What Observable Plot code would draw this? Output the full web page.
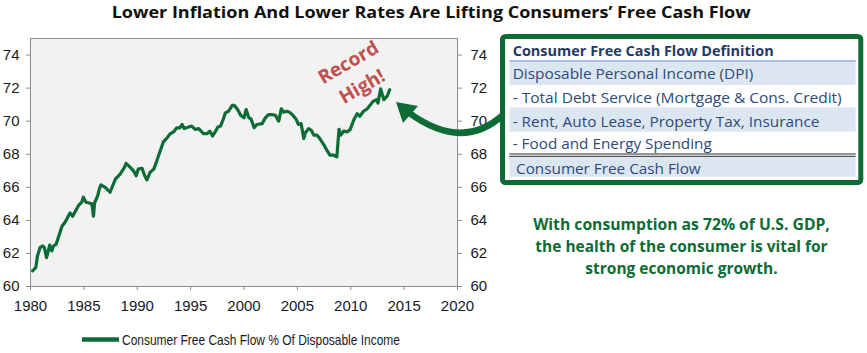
<!DOCTYPE html>
<html>
<head>
<meta charset="utf-8">
<script src="https://cdn.jsdelivr.net/npm/d3@7"></script>
<script src="https://cdn.jsdelivr.net/npm/@observablehq/plot@0.6"></script>
<style>
  html, body { margin: 0; padding: 0; background: #fff; }
  #wrap { position: relative; width: 867px; height: 353px; overflow: hidden; background: #fff; }
  #chart { position: absolute; left: 0; top: 30px; }
  #ov { position: absolute; left: 0; top: 0; pointer-events: none; }
</style>
</head>
<body>
<div id="wrap">
  <div id="chart"></div>
  <svg id="ov" width="867" height="353"></svg>
</div>
<script>
// ---- data ----
const years = [
  1980.2, 1980.5, 1980.65, 1980.9, 1981.15, 1981.3, 1981.5, 1981.8, 1982.0, 1982.15,
  1982.4, 1982.7, 1982.95, 1983.25, 1983.7, 1983.95, 1984.2, 1984.5, 1984.8, 1984.95,
  1985.2, 1985.5, 1985.75, 1985.9, 1986.0, 1986.3, 1986.45, 1986.6, 1987.0, 1987.45,
  1987.95, 1988.4, 1988.8, 1988.95, 1989.35, 1989.65, 1989.9, 1990.1, 1990.45, 1990.7,
  1990.9, 1991.2, 1991.55, 1991.8, 1992.1, 1992.45, 1992.8, 1993.1, 1993.4, 1993.7,
  1994.0, 1994.2, 1994.4, 1994.8, 1995.1, 1995.45, 1995.75, 1996.2, 1996.55, 1996.8,
  1997.05, 1997.3, 1997.55, 1997.8, 1998.05, 1998.25, 1998.55, 1998.9, 1999.1, 1999.4,
  1999.7, 2000.0, 2000.2, 2000.45, 2000.65, 2000.95, 2001.2, 2001.7, 2002.0, 2002.3,
  2002.6, 2002.95, 2003.25, 2003.5, 2003.7, 2004.05, 2004.35, 2004.65, 2004.9, 2005.1,
  2005.35, 2005.6, 2005.75, 2006.05, 2006.3, 2006.55, 2006.85, 2007.15, 2007.45, 2007.8,
  2008.05, 2008.4, 2008.7, 2008.9, 2009.05, 2009.35, 2009.65, 2009.95, 2010.3, 2010.6,
  2010.85, 2011.2, 2011.55, 2011.85, 2012.1, 2012.4, 2012.55, 2012.8, 2013.1, 2013.4,
  2013.65
];
const fcfPct = [
  60.95, 61.15, 61.85, 62.36, 62.45, 62.35, 61.75, 62.5, 62.15, 62.45,
  62.55, 63.15, 63.65, 63.9, 64.45, 64.25, 64.55, 64.9, 65.1, 65.4,
  65.1, 65.05, 65.0, 64.25, 65.05, 65.5, 65.9, 66.15, 66.0, 65.7,
  66.5, 66.8, 67.2, 67.45, 67.2, 67.0, 66.7, 67.1, 67.15, 66.7,
  66.45, 66.9, 67.1, 67.55, 68.1, 68.75, 69.0, 69.25, 69.35, 69.6,
  69.6, 69.8, 69.55, 69.65, 69.7, 69.5, 69.55, 69.25, 69.25, 69.4,
  69.1, 69.35, 69.65, 69.7, 70.1, 70.5, 70.6, 70.95, 70.95, 70.7,
  70.35, 70.2, 70.7, 70.2, 70.15, 69.6, 69.8, 69.85, 70.2, 70.4,
  70.4, 70.35, 70.0, 70.75, 70.55, 70.6, 70.5, 70.3, 70.1, 69.8,
  69.85, 68.95, 69.3, 69.55, 69.45, 69.15, 69.15, 68.9, 68.6, 68.2,
  67.95, 67.95, 67.85, 69.5, 69.15, 69.4, 69.35, 69.5, 70.1, 70.45,
  70.3, 70.6, 70.75, 71.0, 71.2, 71.3, 71.1, 71.95, 71.3, 71.5,
  71.9
];
const xTicks = [1980, 1985, 1990, 1995, 2000, 2005, 2010, 2015, 2020];
const yTicks = [60, 62, 64, 66, 68, 70, 72, 74];
const seriesName = "Consumer Free Cash Flow % Of Disposable Income";
const titleText = "Lower Inflation And Lower Rates Are Lifting Consumers\u2019 Free Cash Flow";
const noteText = "Record\nHigh!";
const boxTitle = "Consumer Free Cash Flow Definition";
const boxRows = [
  "Disposable Personal Income (DPI)",
  "- Total Debt Service (Mortgage & Cons. Credit)",
  "- Rent, Auto Lease, Property Tax, Insurance",
  "- Food and Energy Spending",
  "Consumer Free Cash Flow"
];
const commentLines = [
  "With consumption as 72% of U.S. GDP,",
  "the health of the consumer is vital for",
  "strong economic growth."
];

const data = years.map((y, i) => ({year: y, value: fcfPct[i]}));
const GREEN = "#0d6b36";
const AXISFONT = "'Liberation Sans Narrow','Arial Narrow','Liberation Sans',Arial,sans-serif";

const chart = Plot.plot({
  width: 490,
  height: 290,
  marginLeft: 30,
  marginRight: 33,
  marginTop: 8,
  marginBottom: 34,
  style: {fontFamily: AXISFONT, fontSize: "15px", background: "transparent", color: "#1a1a1a"},
  x: {domain: [1980, 2020], label: null},
  y: {domain: [60, 75], label: null},
  marks: [
    Plot.frame({fill: "#f2f2f2", stroke: null}),
    Plot.axisY({anchor: "left", ticks: yTicks, tickSize: 4, tickPadding: 7, stroke: "#8c8c8c", fill: "#1a1a1a", label: null}),
    Plot.axisY({anchor: "right", ticks: yTicks, tickSize: 4, tickPadding: 9, stroke: "#8c8c8c", fill: "#1a1a1a", label: null}),
    Plot.axisX({anchor: "bottom", ticks: xTicks, tickFormat: d => String(d), tickSize: 4, tickPadding: 10, stroke: "#8c8c8c", fill: "#1a1a1a", label: null}),
    Plot.frame({stroke: "#8c8c8c", strokeWidth: 1}),
    Plot.line(data, {x: "year", y: "value", stroke: GREEN, strokeWidth: 3.2, strokeLinejoin: "round"}),
    Plot.text([{x: 2010.3, y: 72.95}], {
      x: "x", y: "y", text: () => noteText, rotate: -30,
      fill: "#c0504d", fontSize: 19, fontWeight: "bold",
      fontFamily: "'Open Sans','Noto Sans',sans-serif",
      lineHeight: 1.45, textAnchor: "middle", lineAnchor: "middle"
    })
  ]
});
document.getElementById("chart").appendChild(chart);

// ---- overlay: title, definition box, arrow, comment, legend ----
const ov = d3.select("#ov");
const SANS = "'Open Sans','Noto Sans',sans-serif";

ov.append("text")
  .attr("x", 431.2).attr("y", 17.6)
  .attr("text-anchor", "middle")
  .attr("font-family", SANS).attr("font-weight", "bold").attr("font-size", 16.5)
  .attr("fill", "#111")
  .attr("textLength", 639).attr("lengthAdjust", "spacingAndGlyphs")
  .text(titleText);

// definition box
const box = ov.append("g");
box.append("rect").attr("x", 509.3).attr("y", 40).attr("width", 346.4).attr("height", 136.7).attr("fill", "#fff");
const bands = [[61.7, 85], [107.3, 131.7], [156.7, 176.7]];
bands.forEach(([a, b]) => box.append("rect").attr("x", 509.3).attr("y", a).attr("width", 346.4).attr("height", b - a).attr("fill", "#dce6f1"));
box.append("line").attr("x1", 509.3).attr("x2", 855.7).attr("y1", 61).attr("y2", 61).attr("stroke", "#8eaadb").attr("stroke-width", 1.5);
box.append("line").attr("x1", 509.3).attr("x2", 855.7).attr("y1", 154).attr("y2", 154).attr("stroke", "#111").attr("stroke-width", 0.9);
box.append("line").attr("x1", 509.3).attr("x2", 855.7).attr("y1", 156.3).attr("y2", 156.3).attr("stroke", "#111").attr("stroke-width", 0.9);

box.append("text").attr("x", 512.7).attr("y", 56)
  .attr("font-family", SANS).attr("font-weight", "bold").attr("font-size", 15)
  .attr("fill", "#1f3a64").attr("textLength", 261).attr("lengthAdjust", "spacingAndGlyphs")
  .text(boxTitle);
const rowGeo = [
  {x: 512.7, y: 79.3, w: 240.7},
  {x: 512.7, y: 102.8, w: 329},
  {x: 512.7, y: 126.5, w: 306.7},
  {x: 512.7, y: 149.2, w: 199},
  {x: 516, y: 173.8, w: 184.7}
];
boxRows.forEach((t, i) => {
  const g = rowGeo[i];
  box.append("text").attr("x", g.x).attr("y", g.y)
    .attr("font-family", SANS).attr("font-size", 15)
    .attr("fill", "#2c4a7c").attr("textLength", g.w).attr("lengthAdjust", "spacingAndGlyphs")
    .text(t);
});
box.append("rect").attr("x", 502.5).attr("y", 36.5).attr("width", 358.3).attr("height", 146)
  .attr("rx", 3).attr("fill", "none").attr("stroke", GREEN).attr("stroke-width", 5);

// curved arrow
ov.append("path").attr("d", "M503,115 Q462,152 408,112")
  .attr("fill", "none").attr("stroke", GREEN).attr("stroke-width", 6.5).attr("stroke-linecap", "butt");
ov.append("path").attr("d", "M396,102 L418,106 L403,123 Z").attr("fill", GREEN);

// comment text
const cGeo = [{y: 230, w: 296.7}, {y: 252.3, w: 292.3}, {y: 274, w: 192.3}];
commentLines.forEach((t, i) => {
  ov.append("text").attr("x", 681.5).attr("y", cGeo[i].y)
    .attr("text-anchor", "middle")
    .attr("font-family", SANS).attr("font-weight", "bold").attr("font-size", 16)
    .attr("fill", GREEN).attr("textLength", cGeo[i].w).attr("lengthAdjust", "spacingAndGlyphs")
    .text(t);
});

// legend
ov.append("line").attr("x1", 82).attr("x2", 119).attr("y1", 339.5).attr("y2", 339.5)
  .attr("stroke", GREEN).attr("stroke-width", 4.5);
ov.append("text").attr("x", 122).attr("y", 345)
  .attr("font-family", AXISFONT).attr("font-size", 15).attr("fill", "#1a1a1a")
  .attr("textLength", 278).attr("lengthAdjust", "spacingAndGlyphs")
  .text(seriesName);
</script>
</body>
</html>
